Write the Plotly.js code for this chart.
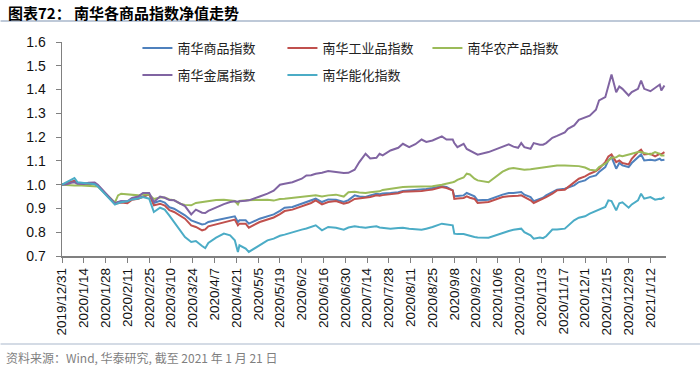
<!DOCTYPE html>
<html>
<head>
<meta charset="utf-8">
<script src="https://cdn.plot.ly/plotly-3.0.1.min.js"></script>
<style>html,body{margin:0;padding:0;background:#fff;}#chart{width:700px;height:370px;}</style>
</head>
<body>
<div id="chart"></div>
<script>
const dates = [
'2019-12-31','2020-01-03','2020-01-06','2020-01-08','2020-01-10','2020-01-14','2020-01-17','2020-01-21','2020-01-23',
'2020-02-03','2020-02-05','2020-02-07','2020-02-11','2020-02-14','2020-02-18','2020-02-21','2020-02-25','2020-02-28',
'2020-03-03','2020-03-06','2020-03-09','2020-03-12','2020-03-16','2020-03-19','2020-03-23','2020-03-26','2020-03-30',
'2020-04-01','2020-04-03','2020-04-08','2020-04-13','2020-04-17','2020-04-20','2020-04-22','2020-04-23','2020-04-27',
'2020-04-29','2020-05-06','2020-05-11','2020-05-15','2020-05-19','2020-05-22','2020-05-27','2020-06-02','2020-06-05',
'2020-06-08','2020-06-11','2020-06-15','2020-06-19','2020-06-24','2020-06-29','2020-07-02','2020-07-06','2020-07-09',
'2020-07-13','2020-07-16','2020-07-20','2020-07-22','2020-07-24','2020-07-29','2020-08-03','2020-08-06','2020-08-10',
'2020-08-14','2020-08-18','2020-08-21','2020-08-25','2020-08-31','2020-09-03','2020-09-07','2020-09-08','2020-09-10',
'2020-09-14','2020-09-16','2020-09-18','2020-09-21','2020-09-23','2020-09-30','2020-10-09','2020-10-13','2020-10-16',
'2020-10-19','2020-10-21','2020-10-23','2020-10-27','2020-10-29','2020-11-02','2020-11-04','2020-11-06','2020-11-10',
'2020-11-13','2020-11-18','2020-11-20','2020-11-24','2020-11-27','2020-12-01','2020-12-04','2020-12-08','2020-12-10',
'2020-12-14','2020-12-16','2020-12-18','2020-12-21','2020-12-23','2020-12-25','2020-12-29','2020-12-31','2021-01-04',
'2021-01-06','2021-01-08','2021-01-12','2021-01-15','2021-01-18','2021-01-19','2021-01-21'
];

// 南华商品指数
const commodity = [
1.000,1.005,1.012,1.015,1.006,1.004,1.002,1.003,0.995,
0.920,0.925,0.930,0.928,0.940,0.944,0.950,0.959,0.923,
0.932,0.925,0.905,0.899,0.885,0.871,0.850,0.843,0.833,
0.835,0.843,0.850,0.857,0.862,0.867,0.843,0.850,0.850,
0.836,0.857,0.868,0.875,0.890,0.903,0.906,0.920,0.925,
0.934,0.941,0.927,0.938,0.937,0.927,0.935,0.955,0.950,
0.948,0.955,0.962,0.960,0.963,0.965,0.968,0.973,0.975,
0.977,0.979,0.982,0.986,0.993,0.990,0.976,0.951,0.953,
0.955,0.965,0.958,0.951,0.934,0.937,0.958,0.965,0.965,
0.968,0.969,0.958,0.948,0.931,0.941,0.945,0.955,0.969,
0.979,0.983,0.987,0.997,1.011,1.018,1.032,1.039,1.053,
1.074,1.102,1.116,1.067,1.091,1.081,1.074,1.091,1.116,
1.127,1.102,1.105,1.102,1.109,1.103,1.105
];

// 南华工业品指数
const industrial = [
1.000,1.006,1.013,1.016,1.007,1.004,1.003,1.004,0.996,
0.919,0.922,0.925,0.922,0.937,0.941,0.948,0.959,0.913,
0.920,0.912,0.893,0.885,0.871,0.857,0.829,0.822,0.808,
0.812,0.825,0.833,0.843,0.848,0.853,0.829,0.836,0.836,
0.819,0.843,0.853,0.862,0.876,0.889,0.895,0.909,0.914,
0.923,0.934,0.917,0.927,0.931,0.920,0.925,0.940,0.942,
0.945,0.948,0.955,0.953,0.956,0.960,0.964,0.970,0.970,
0.972,0.973,0.976,0.980,0.990,0.986,0.976,0.940,0.942,
0.944,0.951,0.945,0.940,0.923,0.927,0.948,0.951,0.951,
0.953,0.955,0.948,0.934,0.923,0.934,0.940,0.948,0.962,
0.976,0.979,0.990,1.011,1.025,1.035,1.046,1.057,1.067,
1.095,1.119,1.127,1.095,1.102,1.091,1.085,1.109,1.137,
1.147,1.127,1.130,1.119,1.130,1.128,1.137
];

// 南华农产品指数
const agri = [
1.000,0.998,0.999,0.997,0.998,0.996,0.995,0.994,0.992,
0.925,0.955,0.962,0.960,0.958,0.955,0.960,0.958,0.940,
0.946,0.946,0.938,0.935,0.920,0.915,0.913,0.923,0.927,
0.928,0.931,0.935,0.937,0.933,0.931,0.917,0.932,0.934,
0.934,0.935,0.937,0.933,0.940,0.941,0.944,0.948,0.950,
0.952,0.955,0.950,0.955,0.958,0.950,0.968,0.970,0.967,
0.965,0.968,0.970,0.972,0.978,0.983,0.986,0.990,0.991,
0.992,0.993,0.993,0.993,1.000,1.003,1.010,1.012,1.020,
1.030,1.046,1.043,1.025,1.018,1.010,1.055,1.067,1.070,
1.068,1.066,1.063,1.065,1.067,1.070,1.072,1.075,1.081,
1.081,1.081,1.081,1.081,1.078,1.072,1.063,1.060,1.074,
1.088,1.102,1.113,1.115,1.123,1.120,1.125,1.130,1.137,
1.137,1.133,1.127,1.137,1.130,1.123,1.123
];

// 南华金属指数
const metals = [
1.000,1.002,1.008,1.010,1.004,1.003,1.008,1.009,1.000,
0.922,0.927,0.930,0.930,0.944,0.950,0.965,0.965,0.927,
0.950,0.945,0.935,0.934,0.920,0.910,0.875,0.895,0.882,
0.881,0.890,0.905,0.918,0.927,0.930,0.928,0.930,0.932,
0.934,0.950,0.962,0.975,1.000,1.004,1.010,1.025,1.039,
1.040,1.046,1.050,1.057,1.053,1.049,1.050,1.063,1.095,
1.130,1.110,1.113,1.130,1.123,1.144,1.155,1.172,1.158,
1.170,1.190,1.180,1.186,1.203,1.190,1.190,1.175,1.158,
1.172,1.150,1.144,1.135,1.126,1.137,1.160,1.170,1.160,
1.155,1.175,1.158,1.151,1.175,1.168,1.168,1.175,1.197,
1.205,1.220,1.235,1.249,1.273,1.282,1.290,1.315,1.354,
1.368,1.420,1.463,1.389,1.413,1.403,1.375,1.389,1.403,
1.438,1.403,1.393,1.408,1.421,1.396,1.417
];

// 南华能化指数
const energy = [
1.000,1.010,1.022,1.028,1.010,1.006,1.004,1.002,0.993,
0.916,0.922,0.926,0.930,0.938,0.942,0.948,0.941,0.885,
0.903,0.895,0.870,0.843,0.808,0.780,0.759,0.763,0.742,
0.733,0.755,0.777,0.794,0.787,0.766,0.717,0.745,0.731,
0.717,0.745,0.766,0.773,0.785,0.790,0.801,0.811,0.816,
0.822,0.829,0.808,0.822,0.819,0.811,0.820,0.825,0.822,
0.819,0.822,0.825,0.820,0.818,0.815,0.818,0.819,0.815,
0.812,0.810,0.815,0.822,0.836,0.832,0.829,0.794,0.792,
0.792,0.790,0.785,0.780,0.778,0.777,0.798,0.805,0.810,
0.812,0.815,0.800,0.787,0.773,0.778,0.775,0.783,0.811,
0.811,0.815,0.828,0.850,0.861,0.867,0.878,0.889,0.892,
0.906,0.934,0.931,0.892,0.922,0.926,0.903,0.917,0.934,
0.962,0.941,0.948,0.937,0.941,0.940,0.948
];

const seriesNames = ['南华商品指数','南华工业品指数','南华农产品指数','南华金属指数','南华能化指数'];
const seriesColors = ['#4F81BD','#C0504D','#9BBB59','#8064A2','#4BACC6'];
const seriesData = [commodity, industrial, agri, metals, energy];
const seriesLegend = ['legend','legend','legend','legend2','legend2'];

const tickLabels = ['2019/12/31','2020/1/14','2020/1/28','2020/2/11','2020/2/25','2020/3/10','2020/3/24','2020/4/7',
'2020/4/21','2020/5/5','2020/5/19','2020/6/2','2020/6/16','2020/6/30','2020/7/14','2020/7/28','2020/8/11',
'2020/8/25','2020/9/8','2020/9/22','2020/10/6','2020/10/20','2020/11/3','2020/11/17','2020/12/1','2020/12/15',
'2020/12/29','2021/1/12'];
const yTicks = [0.7,0.8,0.9,1.0,1.1,1.2,1.3,1.4,1.5,1.6];

const tickVals = tickLabels.map(s => {
  const p = s.split('/');
  return p[0] + '-' + p[1].padStart(2,'0') + '-' + p[2].padStart(2,'0');
});

const traces = seriesNames.map((n,i) => ({
  type:'scatter', mode:'lines', name:n, x:dates, y:seriesData[i],
  line:{color:seriesColors[i], width:2}, legend:seriesLegend[i]
}));

const W = 700, H = 370, L = 61.5, R = 666, T = 42, B = 256;
const px = x => (x - L) / (R - L);
const py = y => (B - y) / (B - T);
const cjk = '"Noto Sans CJK SC", "Liberation Sans", sans-serif';
const latin = '"Liberation Sans", Arial, sans-serif';

const legendBase = {
  orientation:'h', xanchor:'left', yanchor:'top',
  font:{family:cjk, size:13, color:'#222'},
  bgcolor:'rgba(0,0,0,0)', borderwidth:0,
  entrywidth:100, entrywidthmode:'pixels', itemwidth:30, tracegroupgap:0
};

const layout = {
  width:W, height:H,
  margin:{l:61.5, r:W-R, t:T, b:H-B, pad:0},
  paper_bgcolor:'#fff', plot_bgcolor:'#fff',
  showlegend:true,
  legend:Object.assign({}, legendBase, {x:px(137), y:py(33)}),
  legend2:Object.assign({}, legendBase, {x:px(137), y:py(60)}),
  xaxis:{
    type:'date', range:['2019-12-31','2021-01-22'],
    tickmode:'array', tickvals:tickVals, ticktext:tickLabels, tickangle:-90,
    ticks:'outside', ticklen:5, tickwidth:1, tickcolor:'#808080',
    showline:true, linecolor:'#808080', linewidth:1.5, showgrid:false, zeroline:false,
    tickfont:{family:latin, size:13.5, color:'#111'}
  },
  yaxis:{
    range:[0.7,1.6], tickmode:'array', tickvals:yTicks, tickformat:'.1f',
    ticks:'outside', ticklen:5, tickwidth:1, tickcolor:'#808080', ticklabelstandoff:7,
    showline:true, linecolor:'#808080', linewidth:1.5, showgrid:false, zeroline:false,
    tickfont:{family:latin, size:14, color:'#111'}
  },
  shapes:[
    {type:'line', xref:'paper', yref:'paper', x0:px(0), x1:px(700), y0:py(21), y1:py(21), line:{color:'#A9B7CB', width:1.5}},
    {type:'line', xref:'paper', yref:'paper', x0:px(0), x1:px(700), y0:py(344), y1:py(344), line:{color:'#A9B7CB', width:1}}
  ],
  annotations:[
    {xref:'paper', yref:'paper', x:px(5), y:py(12), xanchor:'left', yanchor:'middle', showarrow:false,
     text:'<b>图表72：</b>', font:{family:cjk, size:15, color:'#000'}},
    {xref:'paper', yref:'paper', x:px(72), y:py(12), xanchor:'left', yanchor:'middle', showarrow:false,
     text:'<b>南华各商品指数净值走势</b>', font:{family:cjk, size:15, color:'#000'}},
    {xref:'paper', yref:'paper', x:px(3), y:py(357), xanchor:'left', yanchor:'middle', showarrow:false,
     text:'资料来源：Wind, 华泰研究, 截至 2021 年 1 月 21 日', font:{family:cjk, size:12, color:'#7F7F7F'}}
  ]
};

Plotly.newPlot('chart', traces, layout, {displayModeBar:false, staticPlot:true});
</script>
</body>
</html>
